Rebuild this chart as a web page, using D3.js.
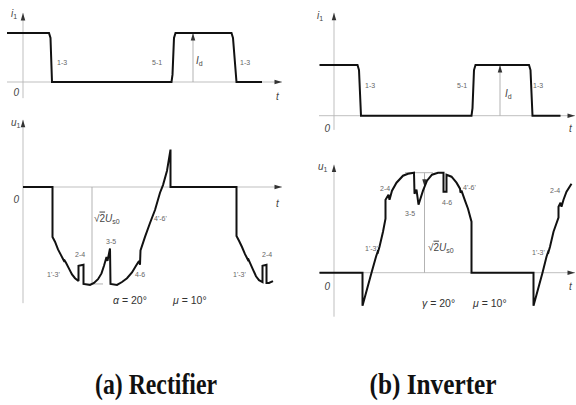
<!DOCTYPE html>
<html>
<head>
<meta charset="utf-8">
<script src="https://cdn.jsdelivr.net/npm/d3@7"></script>
<style>
  body { margin: 0; background: #fff; }
  svg { display: block; }
  .axis { stroke: #b8b8b8; stroke-width: 0.9; }
  .wave { fill: none; stroke: #111; stroke-width: 2; stroke-linejoin: miter; stroke-miterlimit: 2; }
  .guide { stroke: #aaa; stroke-width: 0.9; }
  .lbl { font-family: "Liberation Sans", Arial, sans-serif; font-size: 7px; fill: #666; }
  .ax { font-family: "Liberation Sans", Arial, sans-serif; font-size: 10px; font-style: italic; fill: #444; }
  .ang { font-family: "Liberation Sans", Arial, sans-serif; font-size: 10.5px; fill: #333; }
  .cap { font-family: "Liberation Serif", "Times New Roman", serif; font-size: 29px; font-weight: bold; fill: #111; }
</style>
</head>
<body>
<svg id="chart" width="576" height="405"></svg>
<script>
// valve current i1 (per unit of Id) against wt in degrees
const rectCurrent = [[-32,1],[52,1],[55,0.9],[58,0],[297,0],[299,0.15],[302,0.9],[305,1],
  [417,1],[420,0.9],[427,0],[478,0]]
const invCurrent = [[-29,1],[47,1],[50,0.9],[54,0],[275,0],[277,0.15],[280,0.9],[283,1],
  [390,1],[393,0.9],[397,0],[453,0]]

// valve voltage u1 (per unit of sqrt2 Us0) against wt in degrees
const rectVoltage = [[0,0],[59,0],[59,-0.52],[64,-0.57],[70,-0.65],[76,-0.71],[80,-0.75],[83,-0.78],
  [82,-0.755],[86,-0.79],[92,-0.85],[98,-0.91],[104,-0.95],[111,-0.98],[111,-0.82],[121,-0.81],
  [121,-1.01],[134,-1.02],[142,-1.0],[150,-0.96],[157,-0.9],[162,-0.82],[167,-0.73],[169,-0.77],
  [174,-0.64],[175,-1.01],[188,-1.02],[198,-0.99],[208,-0.95],[218,-0.89],[226,-0.82],[232,-0.77],
  [234,-0.81],[235,-0.66],[244,-0.52],[254,-0.375],[264,-0.24],[274,-0.06],[280,0.02],[288,0.17],
  [295,0.39],[295,0],[427,0],[427,-0.51],[432,-0.56],[438,-0.625],[444,-0.7],[448,-0.74],
  [451,-0.77],[450,-0.745],[454,-0.79],[460,-0.86],[466,-0.93],[472,-0.97],[479,-0.99],
  [479,-0.82],[487,-0.81],[487,-1.0],[492,-1.0],[500,-0.98]]
const invVoltage = [[-29,0],[57,0],[57,-0.33],[75,0],[84,0.16],[88,0.22],[87,0.19],[91,0.26],
  [98,0.41],[103,0.54],[103,0.73],[109,0.78],[111,0.73],[116,0.82],[125,0.9],[138,0.97],
  [148,0.99],[160,1.0],[161,0.79],[165,0.83],[169,0.68],[178,0.82],[186,0.92],[196,0.98],
  [208,1.0],[219,1.0],[219,0.81],[225,0.81],[225,0.98],[235,0.96],[245,0.9],[252,0.84],
  [253,0.8],[255,0.82],[262,0.72],[268,0.64],[275,0.51],[275,0],[399,0],[399,-0.33],
  [417,0],[425,0.16],[429,0.22],[428,0.19],[432,0.26],[439,0.41],[449,0.55],[449,0.66],
  [453,0.7],[455,0.66],[459,0.73],[465,0.81],[475,0.89]]

const captions = ["(a) Rectifier", "(b) Inverter"]

const svg = d3.select("#chart")

svg.append("defs").append("marker")
  .attr("id", "arr")
  .attr("viewBox", "0 -4 10 8")
  .attr("refX", 10).attr("refY", 0)
  .attr("markerWidth", 8).attr("markerHeight", 6)
  .attr("markerUnits", "userSpaceOnUse")
  .attr("orient", "auto")
  .append("path").attr("d", "M0,-3L10,0L0,3Z").attr("fill", "#333")

// Echelles des quatre graphes
let xRect = d3.scaleLinear().domain([0, 360]).range([23, 203])
let xInv = d3.scaleLinear().domain([0, 360]).range([334, 514])
let yRectI = d3.scaleLinear().domain([0, 1]).range([82, 33])
let yRectU = d3.scaleLinear().domain([0, 1]).range([187, 91])
let yInvI = d3.scaleLinear().domain([0, 1]).range([115.7, 65])
let yInvU = d3.scaleLinear().domain([0, 1]).range([272.7, 172.7])

const axes = (x, y, tExt, vExt) => {
  svg.append("line").attr("class", "axis")
    .attr("x1", x(tExt[0])).attr("x2", x(tExt[1]))
    .attr("y1", y(0)).attr("y2", y(0))
    .attr("marker-end", "url(#arr)")
  svg.append("line").attr("class", "axis")
    .attr("x1", x(0)).attr("x2", x(0))
    .attr("y1", y(vExt[0])).attr("y2", y(vExt[1]))
    .attr("marker-end", "url(#arr)")
}

const wave = (x, y, data) => {
  svg.append("path").attr("class", "wave")
    .attr("d", d3.line().x(d => x(d[0])).y(d => y(d[1]))(data))
}

const text = (x, y, t, v, str, cls, anchor) => {
  return svg.append("text").attr("class", cls)
    .attr("x", x(t)).attr("y", y(v))
    .attr("text-anchor", anchor || "start")
    .text(str)
}

// main + indice
const subText = (x, y, t, v, main, sub, cls) => {
  let el = svg.append("text").attr("class", cls).attr("x", x(t)).attr("y", y(v))
  el.append("tspan").text(main)
  el.append("tspan").attr("dy", 2.5).attr("font-size", "0.7em").attr("font-style", "normal").text(sub)
  return el
}

// angle : lettre grecque en italique
const angText = (x, y, t, v, greek, rest) => {
  let el = svg.append("text").attr("class", "ang").attr("x", x(t)).attr("y", y(v))
  el.append("tspan").attr("font-style", "italic").text(greek)
  el.append("tspan").text(rest)
}

const rootLabel = (x, y, t, v) => {
  let el = svg.append("text").attr("class", "ax").attr("font-size", "11px").attr("x", x(t)).attr("y", y(v))
  el.append("tspan").attr("font-style", "normal").text("\u221A")
  el.append("tspan").attr("font-style", "normal").attr("text-decoration", "overline").text("2")
  el.append("tspan").text("U")
  el.append("tspan").attr("dy", 2.5).attr("font-size", "0.7em").attr("font-style", "normal").text("s0")
}

// ---- (a) redresseur ----
axes(xRect, yRectI, [-32, 518], [-0.33, 1.41])
axes(xRect, yRectU, [0, 518], [-1.21, 0.7])

svg.append("line").attr("class", "guide")
  .attr("x1", xRect(340)).attr("x2", xRect(340))
  .attr("y1", yRectI(0)).attr("y2", yRectI(1))
  .attr("marker-end", "url(#arr)")
svg.append("line").attr("class", "guide")
  .attr("x1", xRect(138)).attr("x2", xRect(138))
  .attr("y1", yRectU(0)).attr("y2", yRectU(-1.01))
svg.append("line").attr("class", "guide")
  .attr("x1", xRect(120)).attr("x2", xRect(160))
  .attr("y1", yRectU(-1.01)).attr("y2", yRectU(-1.01))

wave(xRect, yRectI, rectCurrent)
wave(xRect, yRectU, rectVoltage)

subText(xRect, yRectI, -24, 1.33, "i", "1", "ax")
text(xRect, yRectI, -8, -0.29, "0", "ax", "end")
text(xRect, yRectI, 506, -0.37, "t", "ax")
text(xRect, yRectI, 68, 0.35, "1-3", "lbl")
text(xRect, yRectI, 258, 0.35, "5-1", "lbl")
subText(xRect, yRectI, 346, 0.37, "I", "d", "ax")
text(xRect, yRectI, 434, 0.35, "1-3", "lbl")

subText(xRect, yRectU, -24, 0.64, "u", "1", "ax")
text(xRect, yRectU, -8, -0.17, "0", "ax", "end")
text(xRect, yRectU, 506, -0.21, "t", "ax")
rootLabel(xRect, yRectU, 142, -0.36)
text(xRect, yRectU, 48, -0.94, "1'-3'", "lbl")
text(xRect, yRectU, 104, -0.73, "2-4", "lbl")
text(xRect, yRectU, 166, -0.59, "3-5", "lbl")
text(xRect, yRectU, 224, -0.94, "4-6", "lbl")
text(xRect, yRectU, 262, -0.35, "4'-6'", "lbl")
text(xRect, yRectU, 420, -0.94, "1'-3'", "lbl")
text(xRect, yRectU, 478, -0.73, "2-4", "lbl")
angText(xRect, yRectU, 180, -1.22, "\u03B1", " = 20\u00B0")
angText(xRect, yRectU, 300, -1.22, "\u03BC", " = 10\u00B0")

// ---- (b) onduleur ----
axes(xInv, yInvI, [-30, 482], [-0.28, 2.03])
axes(xInv, yInvU, [-30, 482], [-0.44, 1.08])

svg.append("line").attr("class", "guide")
  .attr("x1", xInv(332)).attr("x2", xInv(332))
  .attr("y1", yInvI(0)).attr("y2", yInvI(1))
  .attr("marker-end", "url(#arr)")
svg.append("line").attr("class", "guide")
  .attr("x1", xInv(181)).attr("x2", xInv(181))
  .attr("y1", yInvU(0)).attr("y2", yInvU(1))
svg.append("line").attr("class", "guide")
  .attr("x1", xInv(142)).attr("x2", xInv(198))
  .attr("y1", yInvU(1)).attr("y2", yInvU(1))
svg.append("line").attr("class", "guide")
  .attr("x1", xInv(181)).attr("x2", xInv(181))
  .attr("y1", yInvU(0.98)).attr("y2", yInvU(0.86))
  .attr("marker-end", "url(#arr)")

wave(xInv, yInvI, invCurrent)
wave(xInv, yInvU, invVoltage)

subText(xInv, yInvI, -34, 1.91, "i", "1", "ax")
text(xInv, yInvI, -8, -0.32, "0", "ax", "end")
text(xInv, yInvI, 470, -0.32, "t", "ax")
text(xInv, yInvI, 62, 0.55, "1-3", "lbl")
text(xInv, yInvI, 246, 0.55, "5-1", "lbl")
subText(xInv, yInvI, 342, 0.37, "I", "d", "ax")
text(xInv, yInvI, 398, 0.55, "1-3", "lbl")

subText(xInv, yInvU, -32, 1.03, "u", "1", "ax")
text(xInv, yInvU, -8, -0.17, "0", "ax", "end")
text(xInv, yInvU, 470, -0.17, "t", "ax")
text(xInv, yInvU, 92, 0.82, "2-4", "lbl")
text(xInv, yInvU, 142, 0.57, "3-5", "lbl")
text(xInv, yInvU, 216, 0.68, "4-6", "lbl")
text(xInv, yInvU, 258, 0.83, "4'-6'", "lbl")
text(xInv, yInvU, 62, 0.22, "1'-3'", "lbl")
rootLabel(xInv, yInvU, 188, 0.22)
angText(xInv, yInvU, 176, -0.34, "\u03B3", " = 20\u00B0")
angText(xInv, yInvU, 278, -0.34, "\u03BC", " = 10\u00B0")
text(xInv, yInvU, 396, 0.18, "1'-3'", "lbl")
text(xInv, yInvU, 432, 0.8, "2-4", "lbl")

// Légendes
svg.selectAll(".cap").data(captions).enter()
  .append("text").attr("class", "cap")
  .attr("x", (d, i) => i == 0 ? 156 : 433)
  .attr("y", 394)
  .attr("text-anchor", "middle")
  .attr("textLength", (d, i) => i == 0 ? 122 : 127)
  .attr("lengthAdjust", "spacingAndGlyphs")
  .text(d => d)
</script>
</body>
</html>
